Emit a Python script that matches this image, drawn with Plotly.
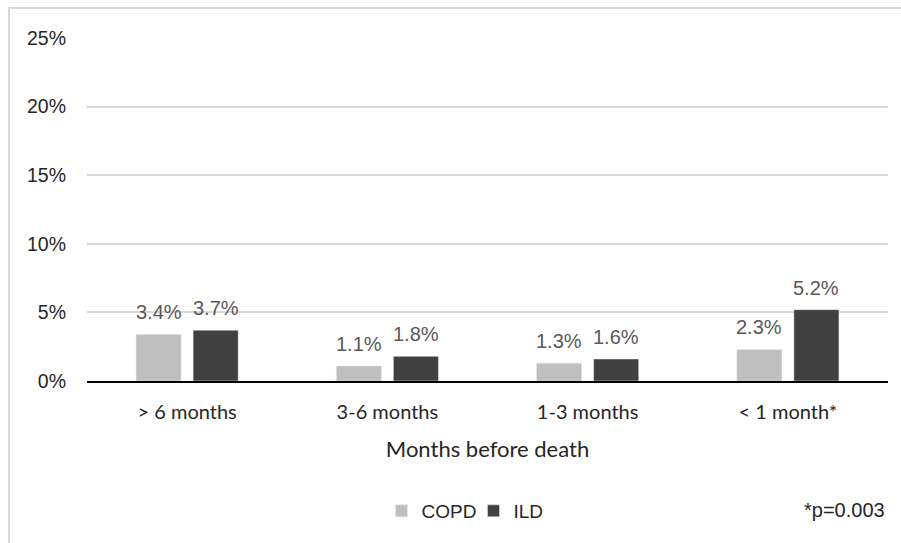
import plotly.graph_objects as go

categories = ["> 6 months", "3-6 months", "1-3 months", "< 1 month*"]
copd = [3.4, 1.1, 1.3, 2.3]
ild = [3.7, 1.8, 1.6, 5.2]
y_ticks = [0, 5, 10, 15, 20, 25]

label_font = dict(family="Liberation Sans, Arial", size=20, color="#595959")

fig = go.Figure()
fig.add_trace(go.Bar(x=categories, y=copd, name="COPD", marker_color="#BFBFBF"))
fig.add_trace(go.Bar(x=categories, y=ild, name="ILD", marker_color="#404040"))

# value labels above each bar, offset left/right to sit over its bar in the group
annotations = []
for series, shift in ((copd, -28.5), (ild, 28.5)):
    for cat, v in zip(categories, series):
        annotations.append(dict(
            x=cat, y=v, xref="x", yref="y", text=f"{v:.1f}%",
            showarrow=False, xshift=shift, yshift=22, yanchor="middle",
            font=label_font,
        ))

annotations.append(dict(
    text="*p=0.003", xref="paper", yref="paper",
    x=(887 - 87) / 801, y=(381 - 510) / 343, xanchor="right", yanchor="middle",
    showarrow=False,
    font=dict(family="Liberation Sans, Arial", size=20, color="#262626"),
))

fig.update_layout(
    width=901, height=543,
    margin=dict(l=87, r=13, t=38, b=162),
    paper_bgcolor="white", plot_bgcolor="white",
    barmode="group", bargap=0.43, bargroupgap=0.21,
    showlegend=True,
    legend=dict(
        orientation="h", x=0.4825, xanchor="center", y=(381 - 511) / 343, yanchor="middle",
        font=dict(family="Liberation Sans, Arial", size=19, color="#262626"),
        itemwidth=30, traceorder="normal",
        entrywidth=47, entrywidthmode="pixels",
    ),
    xaxis=dict(
        showgrid=False, showline=True, linecolor="#000000", linewidth=2,
        ticks="", ticklabelstandoff=12,
        tickfont=dict(family="Lato, Noto Sans", size=20, color="#262626"),
        title=dict(text="Months before death",
                   font=dict(family="Lato, Noto Sans", size=22, color="#262626"),
                   standoff=20),
    ),
    yaxis=dict(
        range=[0, 25], tickvals=y_ticks,
        ticktext=[f"{v}%" for v in y_ticks],
        showgrid=True, gridcolor="#D9D9D9", gridwidth=1.5,
        zeroline=False, showline=False, ticks="",
        ticklabelstandoff=20,
        tickfont=dict(family="Liberation Sans, Arial", size=19.5, color="#262626"),
    ),
    shapes=[dict(
        type="rect", xref="paper", yref="paper",
        x0=(9 - 87) / 801, x1=1.05, y0=-0.6, y1=(381 - 8) / 343,
        line=dict(color="#D9D9D9", width=2), fillcolor="rgba(0,0,0,0)",
        layer="below",
    )],
    annotations=annotations,
)

fig.write_html("out.html")
